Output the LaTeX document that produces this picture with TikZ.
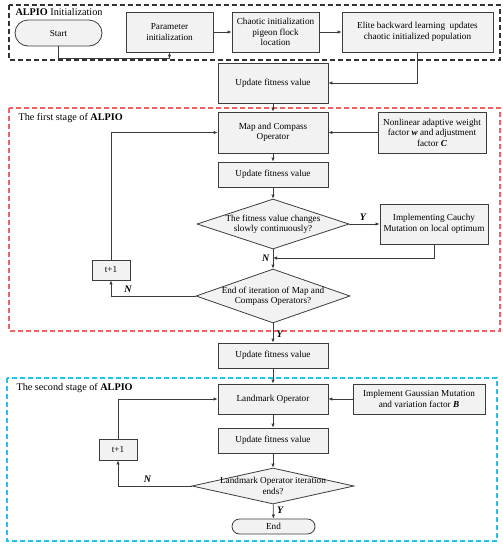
\documentclass[tikz,border=0pt]{standalone}
\usepackage{fontspec}
\setmainfont{Liberation Serif}
\usepackage{tikz}
\usetikzlibrary{arrows.meta,shapes.geometric}

\definecolor{boxfill}{RGB}{242,242,242}
\definecolor{boxline}{RGB}{60,60,60}
\definecolor{initframe}{RGB}{50,50,50}
\definecolor{redframe}{RGB}{238,100,100}
\definecolor{blueframe}{RGB}{40,190,240}

\begin{document}
\begin{tikzpicture}[x=1pt,y=-1pt,
  font=\fontsize{9.2}{10.5}\selectfont,
  proc/.style={draw=boxline,fill=boxfill,line width=0.8pt,inner sep=1pt,align=center},
  term/.style={proc,rounded corners=13pt},
  decision/.style={diamond,draw=boxline,fill=boxfill,line width=0.8pt,inner sep=0pt},
  arr/.style={-{Latex[length=4pt,width=3.5pt]},draw=boxline,line width=0.8pt},
  yn/.style={font=\fontsize{10}{11}\selectfont\bfseries\itshape},
  stageframe/.style={line width=1.2pt,dash pattern=on 5pt off 3pt},
  title/.style={anchor=west,font=\fontsize{10.2}{12}\selectfont}]
\useasboundingbox (0,0) rectangle (503,550);

% Stage frames
\draw[stageframe,draw=initframe] (9,5) rectangle (500,60);
\draw[stageframe,draw=redframe] (9,108) rectangle (500,331);
\draw[stageframe,draw=blueframe] (7,378) rectangle (497,541);
\node[title] (t0) at (12,12) {\textbf{ALPIO} Initialization};
\node[title] (t1) at (15,118) {The first stage of \textbf{ALPIO}};
\node[title] (t2) at (13,388) {The second stage of \textbf{ALPIO}};

% Initialization
\node[term,minimum width=87,minimum height=26] (start) at (58.5,33) {Start};
\node[proc,minimum width=87,minimum height=40] (param) at (169.5,32) {Parameter\\initialization};
\node[proc,minimum width=87,minimum height=40] (chaos) at (275.5,32) {Chaotic initialization\\pigeon flock\\location};
\node[proc,minimum width=151,minimum height=40] (elite) at (417.5,32) {Elite backward learning\ \ updates\\chaotic initialized population};
\node[proc,minimum width=110,minimum height=40] (upd1) at (273,83) {Update fitness value};

% First stage
\node[proc,minimum width=110,minimum height=41] (map) at (273,132.5) {Map and Compass\\Operator};
\node[proc,minimum width=108,minimum height=41] (nonlin) at (432,132.5) {Nonlinear adaptive weight\\factor \textbf{\textit{w}} and adjustment\\factor \textbf{\textit{C}}};
\node[proc,minimum width=110,minimum height=25] (upd2) at (273,174.5) {Update fitness value};
\node[decision,minimum width=152,minimum height=50,
  label={[align=center]center:The fitness value changes\\slowly continuously?}] (d1) at (273,224) {};
\node[proc,minimum width=108,minimum height=40] (cauchy) at (434,224) {Implementing Cauchy\\Mutation on local optimum};
\node[decision,minimum width=154,minimum height=54,
  label={[align=center]center:End of iteration of Map and\\Compass Operators?}] (d2) at (273,296) {};
\node[proc,minimum width=38,minimum height=20] (tp1) at (111,270) {t+1};
\node[proc,minimum width=110,minimum height=25] (upd3) at (273,355.5) {Update fitness value};

% Second stage
\node[proc,minimum width=110,minimum height=30] (land) at (273,399) {Landmark Operator};
\node[proc,minimum width=132,minimum height=30] (gauss) at (419,399) {Implement Gaussian Mutation\\and variation factor \textbf{\textit{B}}};
\node[proc,minimum width=110,minimum height=25] (upd4) at (273,440.5) {Update fitness value};
\node[decision,minimum width=162,minimum height=36,
  label={[align=center]center:Landmark Operator iteration\\ends?}] (d3) at (273,486) {};
\node[proc,minimum width=38,minimum height=21] (tp2) at (118,449.5) {t+1};
\node[term,rounded corners=7.5pt,minimum width=83,minimum height=15] (end) at (273.5,526.5) {End};

% Connectors
\coordinate (j1) at (273,258);
\draw[arr] (start.south) -- ++(0,12) -| (param.south);
\draw[arr] (param) -- (chaos);
\draw[arr] (chaos) -- (elite);
\draw[arr] (elite.south) |- (upd1.east);
\draw[arr] (upd1) -- (map);
\draw[arr] (nonlin) -- (map);
\draw[arr] (map) -- (upd2);
\draw[arr] (upd2) -- (d1);
\draw[arr] (d1) -- node[yn,above,pos=0.45] {Y} (cauchy);
\draw[arr] (cauchy.south) |- (j1);
\draw[arr] (d1) -- node[yn,left,pos=0.45] {N} (d2);
\draw[arr] (d2.west) -| node[yn,above,pos=0.4] {N} (tp1.south);
\draw[arr] (tp1.north) |- (map.west);
\draw[arr] (d2) -- node[yn,right,pos=0.55] {Y} (upd3);
\draw[arr] (upd3) -- (land);
\draw[arr] (gauss) -- (land);
\draw[arr] (land) -- (upd4);
\draw[arr] (upd4) -- (d3);
\draw[arr] (d3.west) -| node[yn,above,pos=0.3] {N} (tp2.south);
\draw[arr] (tp2.north) |- (land.west);
\draw[arr] (d3) -- node[yn,right,pos=0.4] {Y} (end);
\end{tikzpicture}
\end{document}
